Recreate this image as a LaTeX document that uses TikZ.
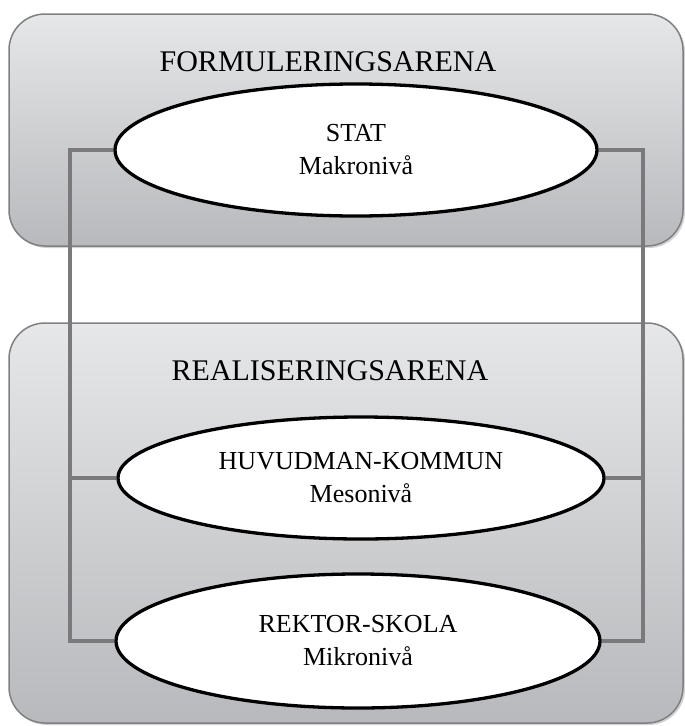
\documentclass[tikz,border=0pt]{standalone}
\usepackage{fontspec}
\setmainfont{Liberation Serif}
\usepackage{tikz}
\usetikzlibrary{shapes.geometric,shadows}
\definecolor{arenatop}{HTML}{E6E7E9}
\definecolor{arenabot}{HTML}{B8B9BC}
\definecolor{arenaline}{HTML}{808082}
\definecolor{linkgray}{HTML}{7A7A7C}
\pgfdeclarelayer{arenas}
\pgfdeclarelayer{links}
\pgfsetlayers{arenas,links,main}

\begin{document}
\begin{tikzpicture}[
    x=1pt, y=-1pt,
    arena/.style={draw=arenaline, line width=1.5pt, rounded corners=36pt, top color=arenatop, bottom color=arenabot,
        drop shadow={opacity=0.35, shadow xshift=2pt, shadow yshift=-2pt}},
    title/.style={font=\fontsize{30}{36}\selectfont},
    level/.style={ellipse, draw=black, line width=3.3pt, fill=white, inner sep=0pt, align=center,
        font=\fontsize{26}{33}\selectfont},
    link/.style={draw=linkgray, line width=4pt}
]
\useasboundingbox (0,0) rectangle (685,726);

% Arenas
\begin{pgfonlayer}{arenas}
\node[arena, minimum width=674pt, minimum height=232pt] (formbox) at (346,130) {};
\node[arena, minimum width=674pt, minimum height=400pt] (realbox) at (346,523) {};
\end{pgfonlayer}
\node[title] (formtitle) at (328,62) {FORMULERINGSARENA};
\node[title] (realtitle) at (330,371) {REALISERINGSARENA};

% Levels
\node[level, minimum width=482pt, minimum height=132pt] (stat) at (356,150) {STAT\\Makronivå};
\node[level, minimum width=486pt, minimum height=122pt] (huvudman) at (361,478) {HUVUDMAN-KOMMUN\\Mesonivå};
\node[level, minimum width=484pt, minimum height=134pt] (rektor) at (358,641) {REKTOR-SKOLA\\Mikronivå};

% Rails
\coordinate (leftrail) at (69.5,400);
\coordinate (rightrail) at (643,400);

% Connectors
\begin{pgfonlayer}{links}
\draw[link] (stat.west) -| (leftrail) |- (rektor.west);
\draw[link] (stat.east) -| (rightrail) |- (rektor.east);
\draw[link] (huvudman.west) -- (huvudman.west -| leftrail);
\draw[link] (huvudman.east) -- (huvudman.east -| rightrail);
\end{pgfonlayer}
\end{tikzpicture}
\end{document}
